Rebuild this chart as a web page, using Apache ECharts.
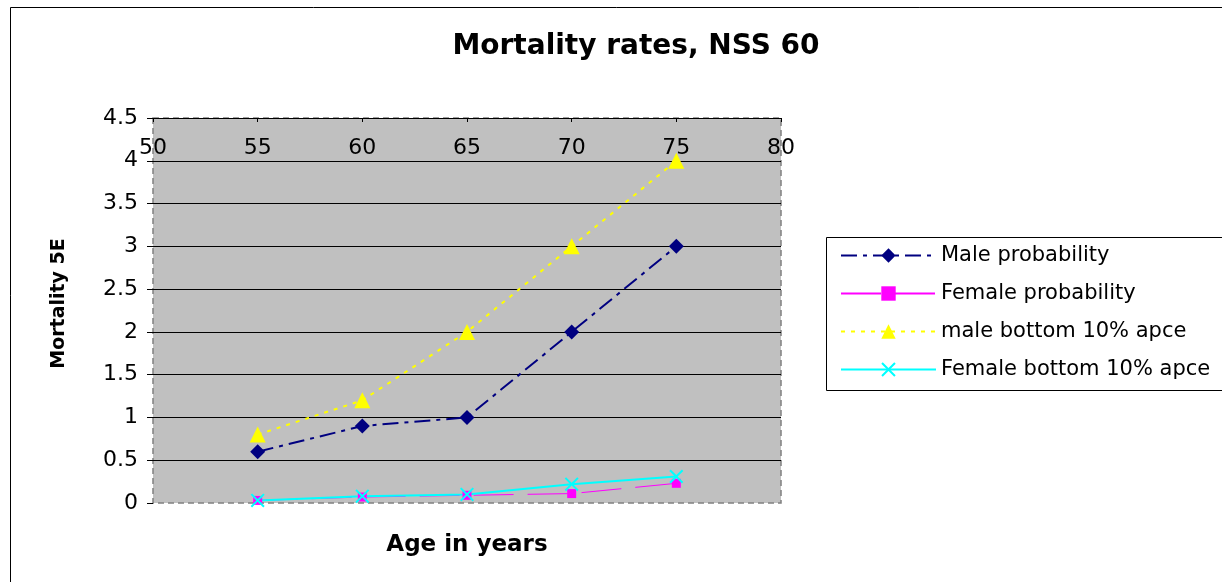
<!DOCTYPE html>
<html><head><meta charset="utf-8">
<script src="https://cdn.jsdelivr.net/npm/echarts@6/dist/echarts.min.js"></script>
<style>html,body{margin:0;padding:0;background:#fff}#c{width:1222px;height:582px}</style>
</head><body><div id="c"></div>
<script>
const ages = [55, 60, 65, 70, 75];
const maleProb = [0.6, 0.9, 1.0, 2.0, 3.0];
const femaleProb = [0.03, 0.07, 0.09, 0.11, 0.23];
const maleBottom = [0.8, 1.2, 2.0, 3.0, 4.0];
const femaleBottom = [0.03, 0.08, 0.1, 0.22, 0.31];
const seriesNames = ['Male probability', 'Female probability', 'male bottom 10% apce', 'Female bottom 10% apce'];
const titleText = 'Mortality rates, NSS 60';
const xTitle = 'Age in years';
const yTitle = 'Mortality 5E';

const F = 'DejaVu Sans, Verdana, sans-serif';
const pairs = arr => ages.map((a, i) => [a, arr[i]]);
const xSym = 'path://M0,1L1,0L5,4L9,0L10,1L6,5L10,9L9,10L5,6L1,10L0,9L4,5Z';

const chart = echarts.init(document.getElementById('c'), null, {renderer: 'canvas'});
chart.setOption({
  animation: false,
  backgroundColor: '#fff',
  title: {text: titleText, left: 631, top: 28, textAlign: 'center',
    textStyle: {fontFamily: F, fontSize: 28, fontWeight: 'bold', color: '#000'}},
  grid: {left: 153, right: 441, top: 118, bottom: 79, show: true,
    backgroundColor: '#C0C0C0', borderColor: '#808080', borderWidth: 1.5, borderType: [6, 4]},
  legend: {orient: 'vertical', left: 835, top: 240, itemWidth: 95, itemHeight: 18, itemGap: 17,
    textStyle: {fontFamily: F, fontSize: 21, color: '#000', padding: [0, 0, 0, 0]},
    data: seriesNames},
  graphic: [
    {type: 'rect', shape: {x: 10.5, y: 7.5, width: 1400, height: 800}, style: {fill: 'none', stroke: '#000', lineWidth: 1}, z: 100},
    {type: 'rect', shape: {x: 826.5, y: 237.5, width: 500, height: 153}, style: {fill: 'none', stroke: '#000', lineWidth: 1}, z: 100}
  ],
  xAxis: {type: 'value', position: 'top', min: 50, max: 80, interval: 5,
    name: xTitle, nameLocation: 'middle', nameGap: -439,
    nameTextStyle: {fontFamily: F, fontSize: 23, fontWeight: 'bold', color: '#000'},
    axisLine: {show: true, onZero: false, lineStyle: {color: '#000', width: 1}},
    axisTick: {show: true, inside: true, length: 4, lineStyle: {color: '#000'}},
    axisLabel: {inside: true, margin: 19, fontFamily: F, fontSize: 22, color: '#000'},
    splitLine: {show: false}},
  yAxis: {type: 'value', min: 0, max: 4.5, interval: 0.5,
    name: yTitle, nameLocation: 'middle', nameGap: 84, nameRotate: 90,
    nameTextStyle: {fontFamily: F, fontSize: 19, fontWeight: 'bold', color: '#000', padding: [0, 0, 0, 14]},
    axisLine: {show: false},
    axisTick: {show: true, length: 6, lineStyle: {color: '#000'}},
    axisLabel: {margin: 15, fontFamily: F, fontSize: 22, color: '#000'},
    splitLine: {show: true, showMinLine: false, showMaxLine: false, lineStyle: {color: '#000', width: 1}}},
  series: [
    {name: seriesNames[0], type: 'line', data: pairs(maleProb), symbol: 'diamond', symbolSize: 15,
      itemStyle: {color: '#000080'}, lineStyle: {color: '#000080', width: 2, type: [16, 6, 4, 6]}},
    {name: seriesNames[1], type: 'line', data: pairs(femaleProb), symbol: 'rect', symbolSize: 9,
      itemStyle: {color: '#FF00FF'}, lineStyle: {color: '#FF00FF', width: 1, type: [40, 14]}},
    {name: seriesNames[2], type: 'line', data: pairs(maleBottom), symbol: 'triangle', symbolSize: 16,
      itemStyle: {color: '#FFFF00'}, lineStyle: {color: '#FFFF00', width: 2, type: [4, 6]}},
    {name: seriesNames[3], type: 'line', data: pairs(femaleBottom), symbol: xSym, symbolSize: 14,
      itemStyle: {color: '#00FFFF'}, lineStyle: {color: '#00FFFF', width: 2, type: 'solid'}}
  ]
});
</script></body></html>
